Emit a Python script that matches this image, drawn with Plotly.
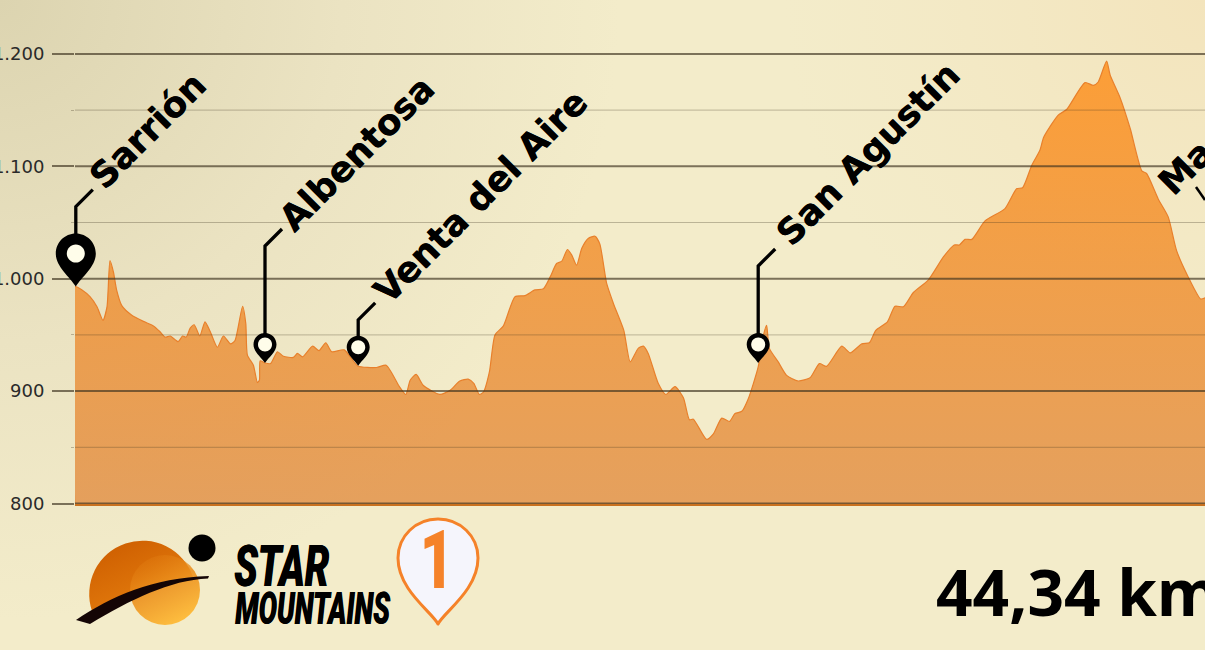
import base64
import plotly.graph_objects as go

# ---- data -------------------------------------------------------------
distance_km = [0, 0, 0.175, 0.375, 0.55, 0.7, 0.8, 0.875, 0.96, 1.04, 1.17, 1.42, 1.71, 1.96, 2.12, 2.25, 2.38, 2.58, 2.69, 2.78, 2.88, 2.98, 3.12, 3.25, 3.38, 3.56, 3.71, 3.89, 4.0, 4.19, 4.27, 4.31, 4.46, 4.56, 4.61, 4.63, 4.75, 4.89, 5.06, 5.21, 5.46, 5.56, 5.69, 5.94, 6.1, 6.27, 6.42, 6.73, 7.07, 7.54, 7.78, 8.11,
               8.27, 8.38, 8.53, 8.71, 9.12, 9.38, 9.62, 9.83, 9.97, 10.11, 10.21, 10.36, 10.5, 10.71, 11.0, 11.25, 11.5, 11.71, 11.88, 12.04, 12.17, 12.31, 12.42, 12.54, 12.67, 12.83, 13.0, 13.12, 13.29, 13.46, 13.72, 13.88, 14.08, 14.21, 14.33, 14.58, 14.77, 15.0, 15.21, 15.36, 15.46, 15.79, 15.96, 16.17, 16.36, 16.5, 16.67, 16.83, 17.08, 17.22, 17.29, 17.36, 17.58, 17.79, 18.08,
               18.38, 18.61, 18.79, 19.17, 19.38, 19.67, 19.86, 20.02, 20.31, 20.5, 20.71, 20.96, 21.33, 21.71, 21.98, 22.11, 22.25, 22.42, 22.75, 23.25, 23.54, 23.69, 23.92, 24.12, 24.22, 24.58, 24.79, 25.25, 25.46, 25.58, 25.79, 25.88, 26.12, 26.38, 26.67, 26.79, 27.08, 27.33, 27.54, 27.83, 28.14, 28.25]
elevation_m = [790, 993, 990, 984, 975, 963, 975, 1016, 1006, 990, 976, 967.5, 962, 958, 953, 948, 949, 944, 949, 948, 956, 959, 949, 961.6, 953, 939, 949, 942, 945, 975.5, 960, 932, 923, 907.6, 909.7, 927, 925, 924.5, 935, 931, 930, 933.5, 930.4, 940, 936, 943, 935, 936.7, 922.4, 921, 923, 904,
               897, 909.7, 914.8, 905, 897, 900.8, 909, 910.6, 906.8, 897, 899, 917, 950, 958, 984, 985, 990, 991, 1001.6, 1013.5, 1015.6, 1026, 1021, 1012, 1027, 1035.8, 1037.8, 1031, 996, 978, 954, 926, 938, 940, 933.5, 907, 897, 904, 894, 874.5, 875, 857, 862, 876, 873, 880, 882, 893, 921.5, 951, 958.6, 938, 926, 914, 909,
               912, 924.5, 922, 940, 934, 942, 943, 954, 961.6, 975.5, 975, 987.7, 998.7, 1019.4, 1030, 1030, 1035, 1035, 1051.4, 1062.4, 1080, 1081, 1101, 1114, 1126, 1145.5, 1150.5, 1174.5, 1172, 1175, 1193.5, 1181, 1161.7, 1133.6, 1096, 1093.6, 1071, 1055, 1025, 1001.6, 982, 983]

major_ticks = [800, 900, 1000, 1100, 1200]
minor_ticks = [850, 950, 1050, 1150]

place_names = ["Sarrión", "Albentosa", "Venta del Aire", "San Agustín"]
place_km = [0.02, 4.75, 7.08, 17.08]
place_elev = [993, 925, 922.5, 925]
pin_radius = [20, 11.5, 11.5, 11.5]
pin_height = [53, 30, 30, 30]
dot_radius = [9, 7, 7, 7]
leader_rise = [80, 117, 46, 97]
label_shift_x = [2, 3, 4, 7]
label_shift_y = [87, 121, 52, 107]

total_distance = "44,34 km"

W, H = 1205, 650
X0, Y_BOTTOM = 75, 504
PX_PER_KM = 40
PX_PER_M = 1.124

# ---- background + logo artwork (decorative) ----------------------------
svg = f'''<svg xmlns="http://www.w3.org/2000/svg" width="{W}" height="{H}" viewBox="0 0 {W} {H}">
<defs>
<radialGradient id="bg" gradientUnits="userSpaceOnUse" cx="0" cy="0" r="620">
<stop offset="0" stop-color="#dcd4b0"/><stop offset="0.55" stop-color="#ebe3c2"/><stop offset="1" stop-color="#f3ecca"/></radialGradient>
<radialGradient id="tr" gradientUnits="userSpaceOnUse" cx="1205" cy="0" r="420"><stop offset="0" stop-color="#f3e4bc" stop-opacity="1"/><stop offset="1" stop-color="#f3e6c0" stop-opacity="0"/></radialGradient>
<linearGradient id="sun" x1="0.1" y1="0" x2="0.8" y2="1"><stop offset="0" stop-color="#cc5c00"/><stop offset="1" stop-color="#e8820f"/></linearGradient>
<linearGradient id="sun2" x1="0.2" y1="0" x2="0.7" y2="1"><stop offset="0" stop-color="#e07a10" stop-opacity="0.25"/><stop offset="0.45" stop-color="#eb8f1c" stop-opacity="0.9"/><stop offset="1" stop-color="#ffc040"/></linearGradient>
</defs>
<rect width="{W}" height="{H}" fill="url(#bg)"/>
<rect width="{W}" height="{H}" fill="url(#tr)"/>
<path d="M92,611 A53,53 0 0 1 193,577 C150,580 125,596 92,611 Z" fill="url(#sun)"/>
<circle cx="165" cy="590" r="35" fill="url(#sun2)"/>
<path d="M76,620 C112,596 152,578 209,576 L208,578.5 C170,580 130,600 90,624 Z" fill="#140505"/>
<circle cx="202" cy="548" r="13.5" fill="#000"/>
<path d="M438,624 C432,612 398,590 398,558 C398,536 416,519 438,519 C460,519 478,536 478,558 C478,590 444,612 438,624 Z" fill="#f5f5fc" stroke="#f58229" stroke-width="3" stroke-linejoin="round"/>
</svg>'''
bg_uri = "data:image/svg+xml;base64," + base64.b64encode(svg.encode()).decode()


def circle_path(cy, r):
    k = 0.5523 * r
    return (f"M 0 {cy + r} C {k} {cy + r} {r} {cy + k} {r} {cy} "
            f"C {r} {cy - k} {k} {cy - r} 0 {cy - r} "
            f"C {-k} {cy - r} {-r} {cy - k} {-r} {cy} "
            f"C {-r} {cy + k} {-k} {cy + r} 0 {cy + r} Z")


def pin_path(h, r):
    cy = h - r
    k = 0.5523 * r
    return (f"M 0 0 C {-0.3 * r} {0.3 * cy} {-r} {0.6 * cy} {-r} {cy} "
            f"C {-r} {cy + k} {-k} {h} 0 {h} "
            f"C {k} {h} {r} {cy + k} {r} {cy} "
            f"C {r} {0.6 * cy} {0.3 * r} {0.3 * cy} 0 0 Z")


def km_to_paper(km):
    return (X0 + km * PX_PER_KM) / W


shapes = []
for v in major_ticks:
    shapes.append(dict(type="line", xref="paper", yref="y", x0=X0 / W, x1=1, y0=v, y1=v, layer="above",
                       line=dict(color="rgba(60,50,30,0.66)", width=2)))
for v in minor_ticks:
    shapes.append(dict(type="line", xref="paper", yref="y", x0=X0 / W, x1=1, y0=v, y1=v, layer="above",
                       line=dict(color="rgba(60,50,30,0.3)", width=1)))

label_font = dict(family="DejaVu Sans", size=35.6, color="#000", weight="bold", shadow="0.4px 0.4px 0 #000")

annotations = []
for name, km, el, r, h, dr, rise, sx, sy in zip(place_names, place_km, place_elev, pin_radius, pin_height, dot_radius, leader_rise, label_shift_x, label_shift_y):
    anchored = dict(xref="paper", yref="y", xsizemode="pixel", ysizemode="pixel", xanchor=km_to_paper(km), yanchor=el, type="path", layer="above")
    shapes.append(dict(anchored, path=f"M 0 {h - 2} L 0 {rise} L 17 {rise + 17}", line=dict(color="#000", width=3.3), fillcolor="rgba(0,0,0,0)"))
    shapes.append(dict(anchored, path=pin_path(h, r), fillcolor="#000", line=dict(width=0)))
    shapes.append(dict(anchored, path=circle_path(h - r, dr), fillcolor="#fffdea", line=dict(width=0)))
    annotations.append(dict(text=name, xref="x", yref="y", x=km, y=el, xanchor="left", yanchor="bottom",
                            xshift=sx, yshift=sy, textangle=-45, showarrow=False, font=label_font))

annotations += [
    dict(text="Ma", xref="paper", yref="paper", x=1147 / W, y=1 - 206 / H, xanchor="left", yanchor="bottom", textangle=-45, showarrow=False, font=label_font),
    dict(text=total_distance, xref="paper", yref="paper", x=934 / W, y=1 - 591 / H, xanchor="left", yanchor="middle", showarrow=False,
         font=dict(family="Noto Sans", size=64, color="#000", weight="bold")),
    dict(text="STAR", xref="paper", yref="paper", x=232 / W, y=1 - 566 / H, xanchor="left", yanchor="middle", showarrow=False,
         font=dict(family="Roboto", size=57, color="#000", weight=900, style="italic", shadow="0.6px 0 0 #000")),
    dict(text="MOUNTAINS", xref="paper", yref="paper", x=233 / W, y=1 - 609 / H, xanchor="left", yanchor="middle", showarrow=False,
         font=dict(family="Roboto", size=44, color="#000", weight=900, style="italic", shadow="0.6px 0 0 #000")),
    dict(text="1", xref="paper", yref="paper", x=437 / W, y=1 - 560 / H, xanchor="center", yanchor="middle", showarrow=False,
         font=dict(family="Roboto", size=82, color="#f58229", weight=900)),
]
shapes.append(dict(type="line", xref="paper", yref="paper", x0=1196 / W, y0=1 - 187 / H, x1=1205 / W, y1=1 - 200 / H, line=dict(color="#000", width=2.5)))

fig = go.Figure(go.Scatter(
    x=distance_km, y=elevation_m, mode="lines",
    line=dict(color="#e8802c", width=1.2, shape="spline", smoothing=0.6),
    fill="tozeroy",
    fillgradient=dict(type="vertical", start=1200, stop=800,
                      colorscale=[[0, "rgba(255,140,20,0.8)"], [1, "rgba(224,135,57,0.75)"]]),
    hoverinfo="skip",
))

y_low = 800 - (Y_BOTTOM - 503.5) / PX_PER_M
y_high = 800 + 503.5 / PX_PER_M

fig.update_layout(
    width=W, height=H, margin=dict(l=0, r=0, t=0, b=0, autoexpand=False),
    paper_bgcolor="#f3ecca", plot_bgcolor="rgba(0,0,0,0)", showlegend=False,
    separators=",.",
    images=[dict(source=bg_uri, xref="paper", yref="paper", x=0, y=1, sizex=1, sizey=1, sizing="stretch", xanchor="left", yanchor="top", layer="below")],
    shapes=shapes, annotations=annotations,
    xaxis=dict(domain=[X0 / W, 1], range=[0, (W - X0) / PX_PER_KM], showgrid=False, zeroline=False, showticklabels=False, ticks="",
               showline=True, linecolor="#c9711f", linewidth=1.5),
    yaxis=dict(domain=[1 - Y_BOTTOM / H, 1], range=[y_low, y_high], tickvals=major_ticks, tickformat=",d",
               showgrid=False, zeroline=False,
               ticks="outside", ticklen=22, tickwidth=2, tickcolor="rgba(60,50,30,0.66)",
               ticklabelstandoff=4, tickfont=dict(family="DejaVu Sans", size=18, color="#2a2a2a"),
               minor=dict(tickvals=minor_ticks, ticks="outside", ticklen=3, tickwidth=1,
                          tickcolor="rgba(60,50,30,0.3)", showgrid=False)),
)

# the logotype is set in an ultra-condensed face: squeeze the live text horizontally
post = """
document.body.style.margin='0';document.body.style.overflow='hidden';
setTimeout(function(){
  var scale={'STAR':[0.68,0],'MOUNTAINS':[0.625,0],'1':[0.72,0.5]};
  document.querySelectorAll('g.annotation text').forEach(function(t){
    var s=scale[t.textContent]; if(!s) return;
    var b=t.getBBox(); var x=b.x+b.width*s[1];
    t.setAttribute('transform','translate('+x+',0) scale('+s[0]+',1) translate('+(-x)+',0)');
  });
},30);
"""
fig.write_html("out.html", post_script=post, config=dict(displayModeBar=False))
